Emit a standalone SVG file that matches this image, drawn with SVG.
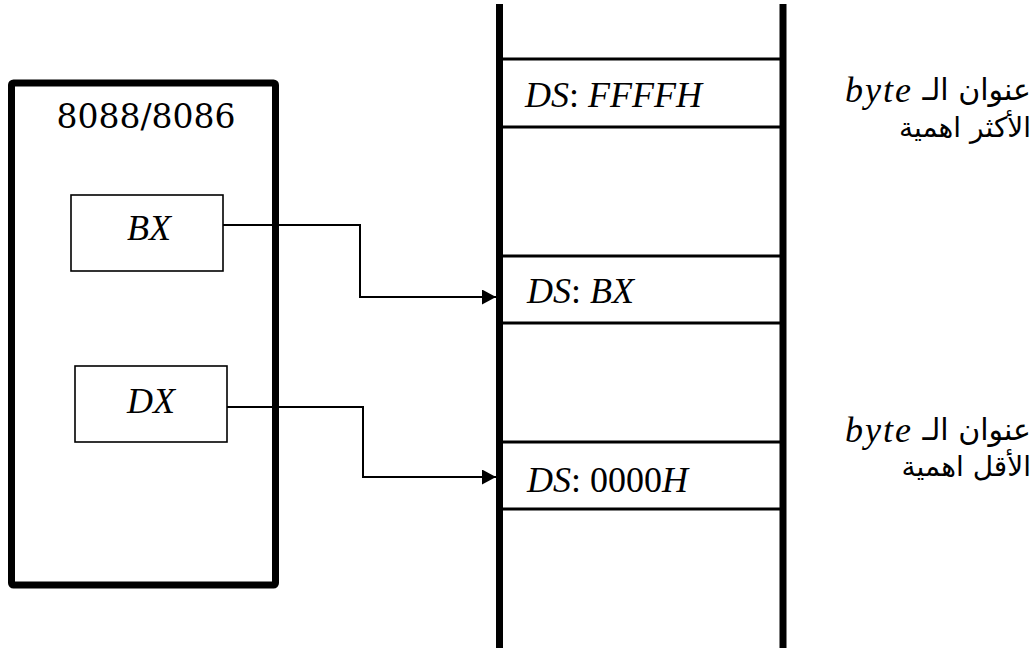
<svg xmlns="http://www.w3.org/2000/svg" width="1033" height="648" viewBox="0 0 1033 648">
<style>
.box{fill:none;stroke:#000;stroke-width:1.6}
.thick{fill:none;stroke:#000;stroke-width:7}
.cell{stroke:#000;stroke-width:3}
.conn{fill:none;stroke:#000;stroke-width:2}
.m{font-family:"Liberation Serif",serif;font-style:italic;font-size:36px;fill:#000}
.u{font-style:normal}
.ar{font-family:"DejaVu Sans",sans-serif;font-size:28px;fill:#000}
.ar1{font-family:"DejaVu Sans",sans-serif;font-size:30px;fill:#000}
.t{font-family:"DejaVu Serif",serif;font-size:33px;fill:#000}
</style>
<defs>
<marker id="ah" markerWidth="14" markerHeight="15" refX="14" refY="7.5" orient="auto" markerUnits="userSpaceOnUse">
<path d="M0,0 L14,7.5 L0,15 Z" fill="#000"/>
</marker>
</defs>
<rect width="1033" height="648" fill="#fff"/>
<g id="cpu">
<rect x="11.5" y="83" width="264" height="502" rx="2" class="thick"/>
<text x="146" y="128" text-anchor="middle" class="t">8088/8086</text>
</g>
<g id="bx">
<rect x="71" y="195" width="152" height="76" class="box"/>
<text x="149" y="240" text-anchor="middle" class="m">BX</text>
</g>
<g id="dx">
<rect x="75" y="366" width="152" height="76" class="box"/>
<text x="151" y="413" text-anchor="middle" class="m">DX</text>
</g>
<g id="memory">
<line x1="499.5" y1="4" x2="499.5" y2="648" class="thick"/>
<line x1="783" y1="4" x2="783" y2="648" class="thick"/>
<line x1="499" y1="59" x2="783" y2="59" class="cell"/>
<line x1="499" y1="127" x2="783" y2="127" class="cell"/>
<line x1="499" y1="256" x2="783" y2="256" class="cell"/>
<line x1="499" y1="323" x2="783" y2="323" class="cell"/>
<line x1="499" y1="442" x2="783" y2="442" class="cell"/>
<line x1="499" y1="509" x2="783" y2="509" class="cell"/>
</g>
<g id="cell-ffff">
<text x="525" y="107" class="m">DS<tspan class="u">: </tspan>FFFFH</text>
</g>
<g id="cell-bx">
<text x="527" y="303" class="m">DS<tspan class="u">: </tspan>BX</text>
</g>
<g id="cell-0000">
<text x="527" y="492" class="m">DS<tspan class="u">: 0000</tspan>H</text>
</g>
<g id="label-high">
<text x="845" y="102" class="m" letter-spacing="2">byte</text>
<text x="1031" y="100" text-anchor="end" class="ar1">عنوان الـ</text>
<text x="1031" y="137" text-anchor="end" class="ar">الأكثر اهمية</text>
</g>
<g id="label-low">
<text x="845" y="442" class="m" letter-spacing="2">byte</text>
<text x="1031" y="440" text-anchor="end" class="ar1">عنوان الـ</text>
<text x="1031" y="476" text-anchor="end" class="ar">الأقل اهمية</text>
</g>
<g id="connectors">
<path d="M223,225 H360 V297 H496" class="conn" marker-end="url(#ah)"/>
<path d="M227,407 H363 V477 H496" class="conn" marker-end="url(#ah)"/>
</g>
</svg>
